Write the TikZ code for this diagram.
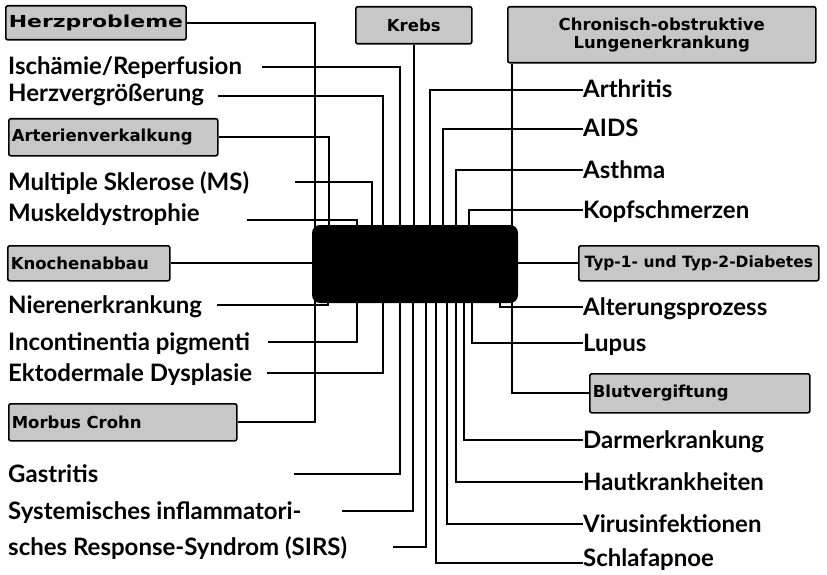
\documentclass[tikz,border=0pt]{standalone}
\usepackage{fontspec}
\setmainfont{Lato}
\newfontfamily\gruppefont{DejaVu Sans}
\usetikzlibrary{positioning}

\tikzset{
  gruppe/.style={draw,line width=1.6pt,fill=black!22,rounded corners=2pt,
    font=\gruppefont\fontsize{16.5}{18}\selectfont\bfseries,inner sep=3pt,anchor=north west},
  krankheit/.style={font=\fontsize{24}{28}\selectfont\bfseries,inner sep=0pt,
    text height=16pt,text depth=0pt,anchor=west},
  linie/.style={line width=1.8pt},
}

\begin{document}
\begin{tikzpicture}[x=1pt,y=-1pt]
\useasboundingbox (0,0) rectangle (827,575);
\node[fill=black,rounded corners=8pt,minimum width=206pt,minimum height=78pt,inner sep=0pt] (kern) at (415,264) {};

\node[gruppe,minimum width=143pt,minimum height=34pt] (herz) at (5,5) {\scalebox{1.33}[1]{Herzprobleme}};
\node[gruppe,minimum width=116pt,minimum height=37pt] (krebs) at (355,6) {Krebs};
\node[gruppe,minimum width=308pt,minimum height=56pt,align=center] (copd) at (507,6) {Chronisch-obstruktive\\Lungenerkrankung};
\node[gruppe,text width=203pt,align=left,minimum height=37pt] (arter) at (8,118) {Arterienverkalkung};
\node[gruppe,text width=156pt,align=left,minimum height=35pt] (knochen) at (7,245) {Knochenabbau};
\node[gruppe,text width=222pt,align=left,minimum height=37pt] (morbus) at (8,403) {Morbus Crohn};
\node[gruppe,minimum width=240pt,minimum height=35pt,inner sep=1pt,
  font=\gruppefont\fontsize{15.5}{17}\selectfont\bfseries] (typ) at (578,245) {Typ-1- und Typ-2-Diabetes};
\node[gruppe,text width=214pt,align=left,minimum height=39pt] (blut) at (589,373) {Blutvergiftung};

\node[krankheit] (isch) at (8,67) {Ischämie/Reperfusion};
\node[krankheit] (herzv) at (8,94) {Herzvergrößerung};
\node[krankheit] (ms) at (8,182) {Multiple Sklerose (MS)};
\node[krankheit] (musk) at (8,213) {Muskeldystrophie};
\node[krankheit] (nier) at (8,305) {Nierenerkrankung};
\node[krankheit] (incon) at (8,342) {Incontinentia pigmenti};
\node[krankheit] (ekto) at (8,373) {Ektodermale Dysplasie};
\node[krankheit] (gast) at (8,474) {Gastritis};
\node[krankheit] (sys) at (8,511) {Systemisches inflammatori-};
\node[krankheit] (sirs) at (8,547) {sches Response-Syndrom (SIRS)};

\node[krankheit] (arth) at (583,90) {Arthritis};
\node[krankheit] (aids) at (583,129) {AIDS};
\node[krankheit] (asth) at (583,170) {Asthma};
\node[krankheit] (kopf) at (583,210) {Kopfschmerzen};
\node[krankheit] (alter) at (583,307) {Alterungsprozess};
\node[krankheit] (lupus) at (583,343) {Lupus};
\node[krankheit] (darm) at (583,440) {Darmerkrankung};
\node[krankheit] (haut) at (583,482) {Hautkrankheiten};
\node[krankheit] (virus) at (583,524) {Virusinfektionen};
\node[krankheit] (schlaf) at (583,558) {Schlafapnoe};

% oben links
\draw[linie] (herz.east) -| (kern.center -| 315,0);
\draw[linie] (isch.east -| 262,0) -| (kern.center -| 400,0);
\draw[linie] (herzv.east -| 218,0) ++(0,2) -| (kern.center -| 383,0);
\draw[linie] (arter.east) -| (kern.center -| 329,0);
\draw[linie] (ms.east -| 295,0) -| (kern.center -| 372,0);
\draw[linie] (musk.east -| 247,0) ++(0,7) -| (kern.center -| 357,0);
\draw[linie] (krebs.south) -- (krebs.south |- kern.center);
\draw[linie] (knochen.east) -- (knochen.east -| kern.center);
% unten links
\draw[linie] (nier.east -| 217,0) -| (kern.center -| 328,0);
\draw[linie] (incon.east -| 268,0) -| (kern.center -| 357,0);
\draw[linie] (ekto.east -| 267,0) -| (kern.center -| 383,0);
\draw[linie] (morbus.east) -| (kern.center -| 315,0);
\draw[linie] (gast.east -| 294,0) -| (kern.center -| 400,0);
\draw[linie] (sys.east -| 342,0) -| (kern.center -| 413,0);
\draw[linie] (sirs.east -| 393,0) -| (kern.center -| 426,0);
% oben rechts
\draw[linie] (copd.south -| 512,0) -- (kern.center -| 512,0);
\draw[linie] (kern.center -| 430,0) |- (arth.west);
\draw[linie] (kern.center -| 443,0) |- (aids.west);
\draw[linie] (kern.center -| 456,0) |- (asth.west);
\draw[linie] (kern.center -| 469,0) |- (kopf.west);
\draw[linie] (typ.west -| kern.center) -- (typ.west);
% unten rechts
\draw[linie] (kern.center -| 500,0) |- (alter.west);
\draw[linie] (kern.center -| 472,0) |- (lupus.west);
\draw[linie] (kern.center -| 512,0) |- (blut.west);
\draw[linie] (kern.center -| 464,0) |- (darm.west);
\draw[linie] (kern.center -| 456,0) |- (haut.west);
\draw[linie] (kern.center -| 447,0) |- (virus.west);
\draw[linie] (kern.center -| 436,0) |- ([yshift=-5pt]schlaf.west);
\end{tikzpicture}
\end{document}
